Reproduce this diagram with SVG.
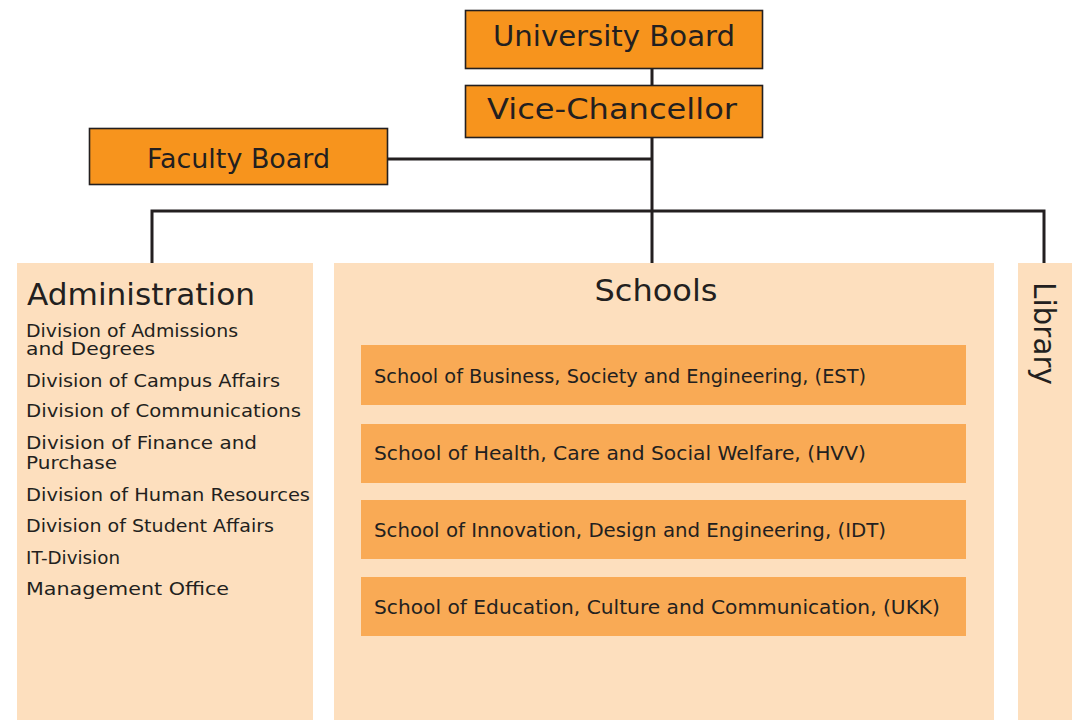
<svg xmlns="http://www.w3.org/2000/svg" width="1072" height="720" viewBox="0 0 1072 720">
<style>
text{font-family:"DejaVu Sans","Liberation Sans",sans-serif;fill:#231f20}
.top{fill:#f7941d;stroke:#231f20;stroke-width:1.6}
.panel{fill:#fddfbe}
.school{fill:#f9aa55}
.conn{fill:none;stroke:#231f20;stroke-width:3}
.big{font-size:28px}
.list{font-size:17px}
.sch{font-size:19px}
</style>
<rect width="1072" height="720" fill="#ffffff"/>
<g id="connectors">
<path class="conn" d="M652 69V85M652 138V263M388 159H652M152 263V211H1044V263"/>
</g>
<g id="university-board">
<rect class="top" x="465.5" y="10.5" width="297" height="58"/>
<text class="big" x="614" y="46" text-anchor="middle" textLength="242" lengthAdjust="spacingAndGlyphs">University Board</text>
</g>
<g id="vice-chancellor">
<rect class="top" x="465.5" y="85.5" width="297" height="52"/>
<text class="big" x="612" y="119" text-anchor="middle" textLength="250" lengthAdjust="spacingAndGlyphs">Vice-Chancellor</text>
</g>
<g id="faculty-board">
<rect class="top" x="89.5" y="128.5" width="298" height="56"/>
<text x="238.5" y="168" font-size="26" text-anchor="middle" textLength="183" lengthAdjust="spacingAndGlyphs">Faculty Board</text>
</g>
<g id="administration">
<rect class="panel" x="17" y="263" width="296" height="457"/>
<text x="27" y="305" font-size="30" textLength="228" lengthAdjust="spacingAndGlyphs">Administration</text>
<text class="list" x="26" y="337" textLength="212" lengthAdjust="spacingAndGlyphs">Division of Admissions</text>
<text class="list" x="26" y="355" textLength="129" lengthAdjust="spacingAndGlyphs">and Degrees</text>
<text class="list" x="26" y="387" textLength="254" lengthAdjust="spacingAndGlyphs">Division of Campus Affairs</text>
<text class="list" x="26" y="417" textLength="275" lengthAdjust="spacingAndGlyphs">Division of Communications</text>
<text class="list" x="26" y="449" textLength="231" lengthAdjust="spacingAndGlyphs">Division of Finance and</text>
<text class="list" x="26" y="469" textLength="91" lengthAdjust="spacingAndGlyphs">Purchase</text>
<text class="list" x="26" y="501" textLength="284" lengthAdjust="spacingAndGlyphs">Division of Human Resources</text>
<text class="list" x="26" y="532" textLength="248" lengthAdjust="spacingAndGlyphs">Division of Student Affairs</text>
<text class="list" x="26" y="564" textLength="94" lengthAdjust="spacingAndGlyphs">IT-Division</text>
<text class="list" x="26" y="595" textLength="203" lengthAdjust="spacingAndGlyphs">Management Office</text>
</g>
<g id="schools">
<rect class="panel" x="334" y="263" width="660" height="457"/>
<text x="656" y="301" font-size="30" text-anchor="middle" textLength="123" lengthAdjust="spacingAndGlyphs">Schools</text>
</g>
<g id="school-est">
<rect class="school" x="361" y="345" width="605" height="60"/>
<text class="sch" x="374" y="383" textLength="492" lengthAdjust="spacingAndGlyphs">School of Business, Society and Engineering, (EST)</text>
</g>
<g id="school-hvv">
<rect class="school" x="361" y="424" width="605" height="59"/>
<text class="sch" x="374" y="460" textLength="492" lengthAdjust="spacingAndGlyphs">School of Health, Care and Social Welfare, (HVV)</text>
</g>
<g id="school-idt">
<rect class="school" x="361" y="500" width="605" height="59"/>
<text class="sch" x="374" y="537" textLength="512" lengthAdjust="spacingAndGlyphs">School of Innovation, Design and Engineering, (IDT)</text>
</g>
<g id="school-ukk">
<rect class="school" x="361" y="577" width="605" height="59"/>
<text class="sch" x="374" y="614" textLength="566" lengthAdjust="spacingAndGlyphs">School of Education, Culture and Communication, (UKK)</text>
</g>
<g id="library">
<rect class="panel" x="1018" y="263" width="54" height="457"/>
<text transform="translate(1034,282) rotate(90)" font-size="30" textLength="103" lengthAdjust="spacingAndGlyphs">Library</text>
</g>
</svg>
